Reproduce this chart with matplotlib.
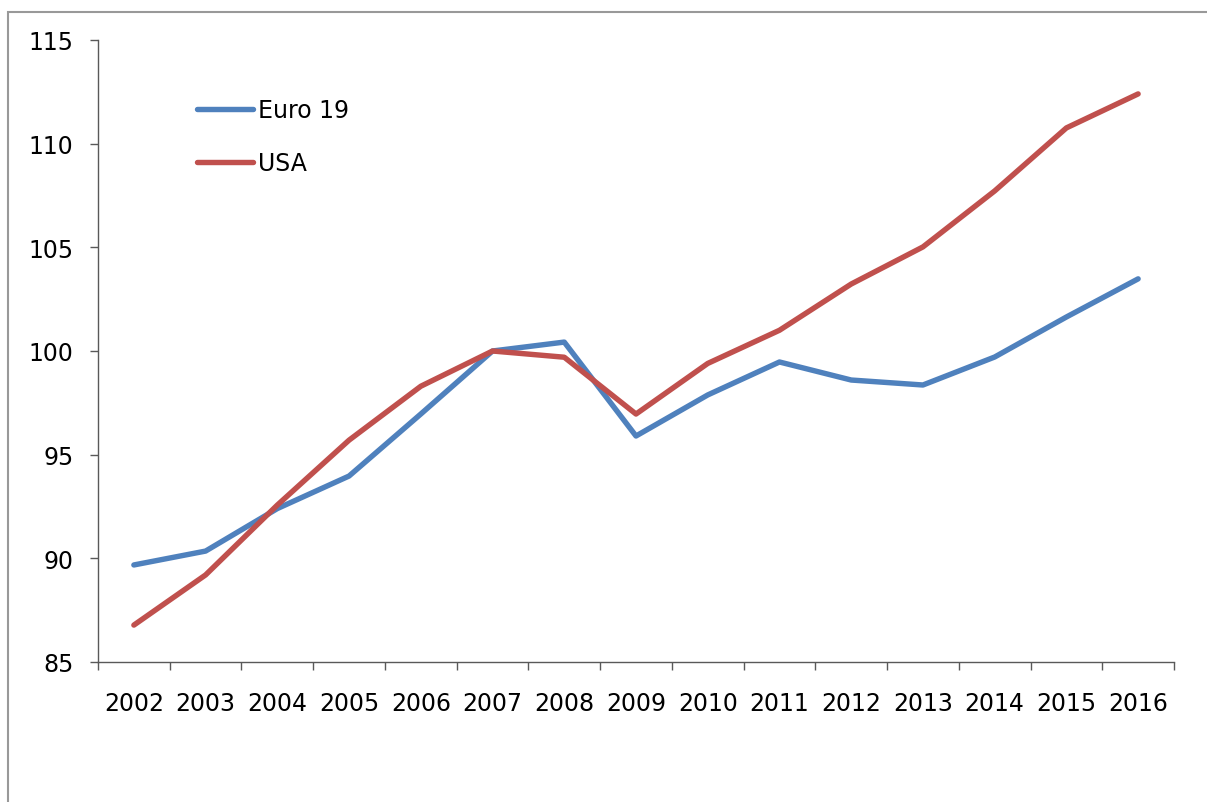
import matplotlib
matplotlib.use("Agg")
import matplotlib.pyplot as plt
from matplotlib.patches import Rectangle

years = ["2002", "2003", "2004", "2005", "2006", "2007", "2008", "2009",
         "2010", "2011", "2012", "2013", "2014", "2015", "2016"]
euro19 = [89.68, 90.35, 92.4, 93.97, 96.96, 100.0, 100.43, 95.9,
          97.88, 99.47, 98.6, 98.36, 99.71, 101.64, 103.48]
usa = [86.78, 89.2, 92.57, 95.7, 98.3, 100.0, 99.7, 96.96,
       99.4, 101.0, 103.23, 105.02, 107.72, 110.76, 112.4]
yticks = [85, 90, 95, 100, 105, 110, 115]

W, H = 1207, 803
fig = plt.figure(figsize=(W / 100, H / 100), dpi=100)
fig.patches.append(Rectangle((8 / W, -0.1), 1.2, 1 - 13 / H + 0.1,
                             transform=fig.transFigure, fill=False,
                             edgecolor="#999999", linewidth=1.5))

ax = fig.add_axes([98 / W, 1 - 663 / H, (1174 - 98) / W, (663 - 41) / H])
x = list(range(len(years)))
ax.plot(x, euro19, color="#4F81BD", linewidth=3.9, solid_capstyle="round",
        solid_joinstyle="round", label="Euro 19")
ax.plot(x, usa, color="#C0504D", linewidth=3.9, solid_capstyle="round",
        solid_joinstyle="round", label="USA")

ax.set_xlim(-0.5, len(years) - 0.5)
ax.set_ylim(85, 115)
ax.set_yticks(yticks)
ax.set_yticklabels([str(v) for v in yticks])
ax.set_xticks(x)
ax.set_xticklabels(years)
ax.set_xticks([i - 0.5 for i in range(len(years) + 1)], minor=True)

spine_c = "#595959"
for s in ["top", "right"]:
    ax.spines[s].set_visible(False)
for s in ["left", "bottom"]:
    ax.spines[s].set_color(spine_c)
    ax.spines[s].set_linewidth(1.0)

ax.tick_params(axis="x", which="major", length=0, pad=21, labelsize=17, labelcolor="black")
ax.tick_params(axis="x", which="minor", length=5.8, width=1.0, color=spine_c, direction="out")
ax.tick_params(axis="y", which="major", length=5.8, width=1.0, color=spine_c,
               pad=12, labelsize=17, labelcolor="black")

ax.legend(loc="upper left", bbox_to_anchor=(0.092, 0.907), frameon=False,
          borderpad=0, borderaxespad=0,
          fontsize=17, handlelength=2.37, handletextpad=0.2, labelspacing=1.24)

fig.savefig("out.png", dpi=100)
